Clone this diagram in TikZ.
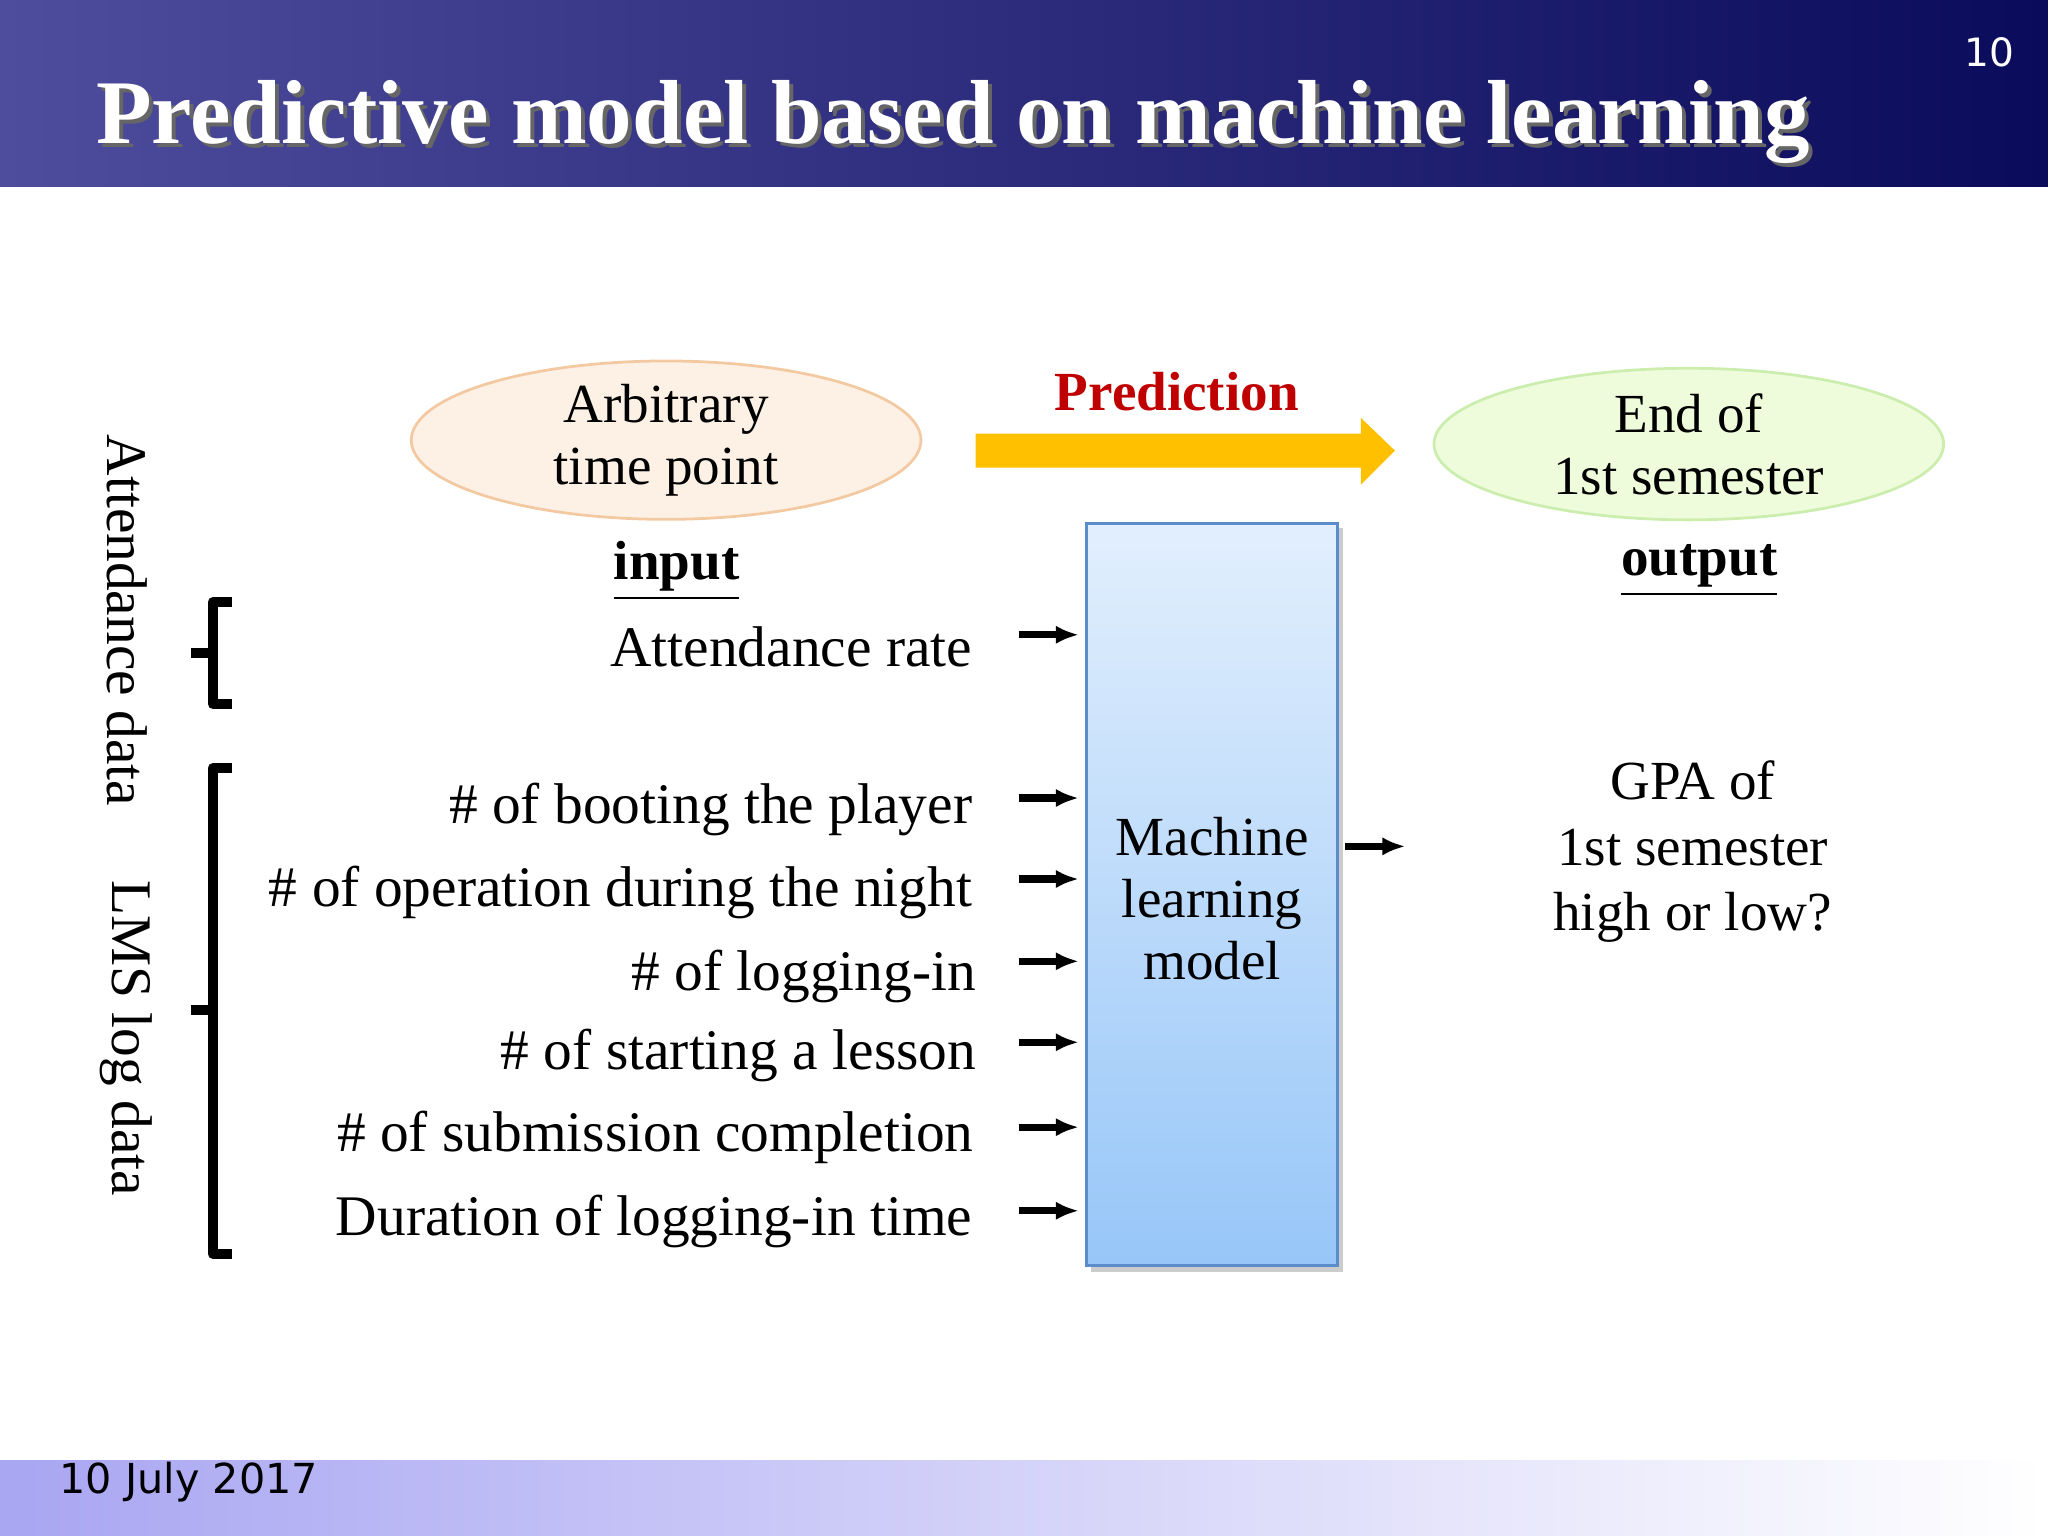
\documentclass[tikz,border=0pt]{standalone}
\usepackage{fontspec}
\setmainfont{Liberation Serif}
\newfontfamily\dateface{DejaVu Sans}
\usetikzlibrary{shapes.geometric,arrows.meta}
\definecolor{hdrL}{HTML}{4E4C9C}
\definecolor{hdrR}{HTML}{0B0B5C}
\definecolor{ftrL}{HTML}{A9A6F2}
\definecolor{predred}{HTML}{C00000}
\definecolor{arrowy}{HTML}{FFC000}
\definecolor{ell1f}{HTML}{FDF1E6}
\definecolor{ell1d}{HTML}{F3C9A2}
\definecolor{ell2f}{HTML}{EEFCDC}
\definecolor{ell2d}{HTML}{CBEDAE}
\definecolor{boxT}{HTML}{E2EFFD}
\definecolor{boxB}{HTML}{97C6F8}
\definecolor{boxD}{HTML}{5B8DCB}
\tikzset{
  body/.style={font=\fontsize{12.5}{14}\selectfont},
  bodyc/.style={font=\fontsize{12}{13.5}\selectfont,align=center},
  inp/.style={body,anchor=east,inner sep=0pt},
  small/.style={-{Latex[length=5pt,width=4pt]},line width=1.6pt},
  brk/.style={line width=2.2pt,line join=round},
  ell/.style={ellipse,inner sep=0pt,minimum width=3.9cm,minimum height=1.16cm,line width=0.6pt,bodyc}
}
\begin{document}
\begin{tikzpicture}[x=0.01cm,y=-0.01cm]
\useasboundingbox (0,0) rectangle (1568,1176);
% header
\shade[left color=hdrL,right color=hdrR] (0,0) rectangle (1568,143);
\node[anchor=base west,text=black!60,font=\fontsize{19.8}{22}\selectfont\bfseries,inner sep=0pt] at (76,113) {Predictive model based on machine learning};
\node[anchor=base west,text=white,font=\fontsize{19.8}{22}\selectfont\bfseries,inner sep=0pt] (title) at (73,110) {Predictive model based on machine learning};
\node[text=white,font=\dateface\fontsize{8.5}{10}\selectfont] (pg) at (1523,40) {10};
% footer
\shade[left color=ftrL,right color=white] (0,1118) rectangle (1568,1176);
\node[anchor=west,font=\dateface\fontsize{9}{11}\selectfont,inner sep=0pt] (date) at (45,1135) {10 July 2017};
% ellipses
\node[ell,fill=ell1f,draw=ell1d] (e1) at (510,337) {Arbitrary\\time point};
\node[ell,fill=ell2f,draw=ell2d] (e2) at (1293,340) {End of\\1st semester};
% prediction arrow
\fill[arrowy] (747,332) -- (1042,332) -- (1042,320) -- (1068,345) -- (1042,371) -- (1042,358) -- (747,358) -- cycle;
\node[text=predred,font=\fontsize{12}{14}\selectfont\bfseries] (pred) at (901,300) {Prediction};
% labels
\node[font=\fontsize{12}{14}\selectfont\bfseries] (in) at (518,437) {\underline{input}};
\node[font=\fontsize{12}{14}\selectfont\bfseries] (out) at (1301,437) {\underline{output}};
% box
\fill[black!20] (835,404) rectangle (1028,974);
\shade[top color=boxT,bottom color=boxB] (832,401) rectangle (1024,969);
\draw[boxD,line width=0.7pt] (832,401) rectangle (1024,969);
\node[bodyc] (ml) at (928,688) {Machine\\learning\\model};
% inputs
\node[inp] (i1) at (745,495) {Attendance rate};
\node[inp] (i2) at (745,620) {\# of booting the player};
\node[inp] (i3) at (745,683) {\# of operation during the night};
\node[inp] (i4) at (748,748) {\# of logging-in};
\node[inp] (i5) at (748,808) {\# of starting a lesson};
\node[inp] (i6) at (746,871) {\# of submission completion};
\node[inp] (i7) at (745,935) {Duration of logging-in time};
\foreach \y in {486,611,673,736,798,863,927}{
  \draw[small] (780,\y) -- (826,\y);
}
\draw[small] (1030,648) -- (1076,648);
\node[bodyc,font=\fontsize{12}{14.3}\selectfont] (gpa) at (1296,652) {GPA of\\1st semester\\high or low?};
% brackets
\draw[brk] (178,461) -- (163,461) -- (163,500) -- (146,500) (163,500) -- (163,539) -- (178,539);
\draw[brk] (178,588) -- (163,588) -- (163,773) -- (146,773) (163,773) -- (163,960) -- (178,960);
\node[body,rotate=-90] (att) at (97,475) {Attendance data};
\node[body,rotate=-90] (lms) at (97,795) {LMS log data};
\end{tikzpicture}
\end{document}
